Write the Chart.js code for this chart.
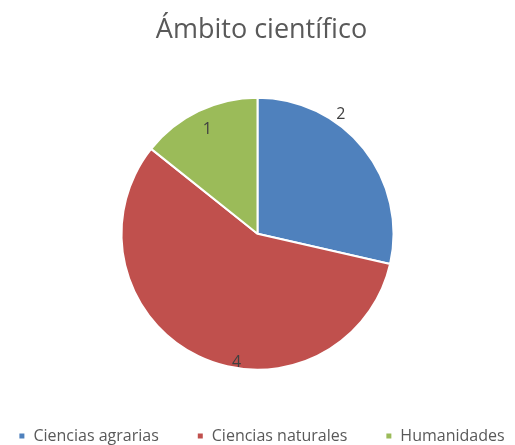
<!DOCTYPE html>
<html>
<head>
<meta charset="utf-8">
<script src="https://cdn.jsdelivr.net/npm/chart.js@4"></script>
<style>
  html, body { margin: 0; padding: 0; background: #fff; }
  #wrap { width: 515px; height: 445px; }
</style>
</head>
<body>
<div id="wrap"><canvas id="chart1"></canvas></div>
<script>
var categories = ["Ciencias agrarias", "Ciencias naturales", "Humanidades"];
var counts = [2, 4, 1];
var sliceColors = ["#4F81BD", "#C0504D", "#9BBB59"];

// where each value label sits: fraction along the slice angle, fraction of the radius
var labelAngleFrac = [0.34, 0.42, 0.5];
var labelRadiusFrac = [1.07, 0.96, 0.85];

// value labels drawn on top of the slices
const sliceLabels = {
  id: 'sliceLabels',
  afterDatasetsDraw(chart) {
    const ctx = chart.ctx;
    const meta = chart.getDatasetMeta(0);
    ctx.save();
    ctx.font = '16px "Open Sans"';
    ctx.fillStyle = '#404040';
    ctx.textAlign = 'center';
    ctx.textBaseline = 'middle';
    meta.data.forEach(function (arc, i) {
      const p = arc.getProps(['x', 'y', 'startAngle', 'endAngle', 'outerRadius'], true);
      const a = p.startAngle + (p.endAngle - p.startAngle) * labelAngleFrac[i];
      const r = p.outerRadius * labelRadiusFrac[i];
      ctx.fillText(String(counts[i]), p.x + Math.cos(a) * r, p.y + Math.sin(a) * r);
    });
    ctx.restore();
  }
};

document.addEventListener("DOMContentLoaded", function () {
const ctx = document.getElementById("chart1");
const chart1 = new Chart(ctx, {
  type: 'pie',
  data: {
    labels: categories,
    datasets: [{
      data: counts,
      backgroundColor: sliceColors,
      borderColor: '#ffffff',
      borderWidth: 2,
      radius: 136
    }]
  },
  options: {
    responsive: true,
    maintainAspectRatio: false,
    animation: false,
    // wide legend row: let the boxes run past the canvas sides so it stays on one line
    layout: { padding: { left: -28, right: -36, top: 0, bottom: -9 } },
    plugins: {
      tooltip: { enabled: false },
      title: {
        display: true,
        text: 'Ámbito científico',
        color: '#595959',
        font: { family: '"Open Sans"', size: 27, weight: 'normal' },
        padding: { top: 14, bottom: 31 }
      },
      legend: {
        position: 'bottom',
        labels: {
          color: '#595959',
          font: { family: '"Open Sans"', size: 16 },
          boxWidth: 7,
          boxHeight: 7,
          padding: 38
        }
      }
    }
  },
  plugins: [sliceLabels]
});
});
</script>
</body>
</html>
